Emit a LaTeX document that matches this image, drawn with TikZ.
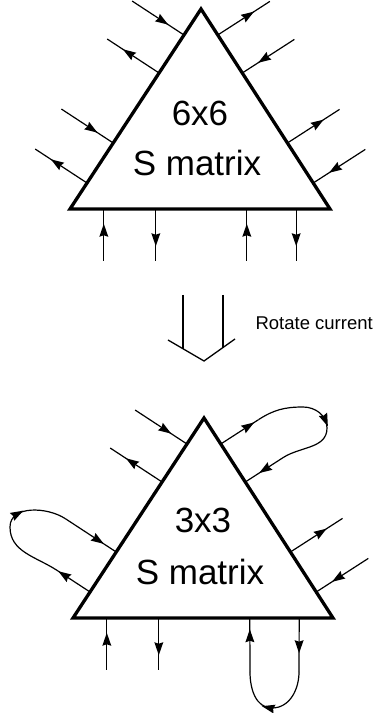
\documentclass[tikz,border=0pt]{standalone}
\usepackage{fontspec}
\setmainfont{Liberation Sans}
\usetikzlibrary{calc,arrows.meta,decorations.markings}

\tikzset{
  block/.style={line width=3.3pt,line join=miter},
  lead/.style={line width=1.2pt,postaction=decorate,
    decoration={markings,mark=at position #1 with {\fill (6pt,0pt) -- (-7pt,4.5pt) -- (-5.5pt,0pt) -- (-7pt,-4.5pt) -- cycle;}}},
  lead/.default=0.6,
  matrixtext/.style={font=\fontsize{35}{40}\selectfont,inner sep=0pt},
}

\begin{document}
\begin{tikzpicture}[x=1pt,y=1pt]
  \useasboundingbox (0,0) rectangle (383,713);
  % 6x6 block
  \coordinate (six-l) at (70,504);
  \coordinate (six-r) at (330,504);
  \coordinate (six-t) at (201,704);
  \draw[block] (six-l) -- (six-r) -- (six-t) -- cycle;
  \node[matrixtext] (six-n) at (200,600) {6x6};
  \node[matrixtext] (six-s) at (197,550) {S matrix};
  \foreach \t [count=\i] in {0.13,0.33,0.68,0.87} {
    \coordinate (six-L\i) at ($(six-l)!\t!(six-t)$);
    \coordinate (six-L\i-o) at ($(six-L\i)!62pt!90:(six-t)$);
    \coordinate (six-R\i) at ($(six-r)!\t!(six-t)$);
    \coordinate (six-R\i-o) at ($(six-R\i)!62pt!-90:(six-t)$);
    \coordinate (six-B\i) at ($(six-l)!\t!(six-r)$);
    \coordinate (six-B\i-o) at ($(six-B\i)!52pt!-90:(six-r)$);
  }
  \foreach \s in {L2,L4,R1,R3,B1,B3}
    \draw[lead] (six-\s-o) -- (six-\s);
  \foreach \s in {L1,L3,R2,R4,B2,B4}
    \draw[lead] (six-\s) -- (six-\s-o);

  % rotate current
  \draw[line width=1.3pt] (183,418) -- (183,364.3);
  \draw[line width=1.3pt] (223,418) -- (223,365.5);
  \draw[line width=1.3pt] (168,373) -- (204,352) -- (235,374);
  \node[anchor=west,font=\fontsize{18.5}{22}\selectfont] (rot) at (252,390) {Rotate current};

  % 3x3 block
  \coordinate (three-l) at (73,95);
  \coordinate (three-r) at (333,95);
  \coordinate (three-t) at (204,295);
  \draw[block] (three-l) -- (three-r) -- (three-t) -- cycle;
  \node[matrixtext] (three-n) at (203,193) {3x3};
  \node[matrixtext] (three-s) at (200,141) {S matrix};
  \foreach \t [count=\i] in {0.13,0.33,0.68,0.87} {
    \coordinate (three-L\i) at ($(three-l)!\t!(three-t)$);
    \coordinate (three-R\i) at ($(three-r)!\t!(three-t)$);
    \coordinate (three-B\i) at ($(three-l)!\t!(three-r)$);
  }
  \foreach \i in {3,4} {
    \coordinate (three-L\i-o) at ($(three-L\i)!62pt!90:(three-t)$);
  }
  \foreach \i in {1,2} {
    \coordinate (three-R\i-o) at ($(three-R\i)!62pt!-90:(three-t)$);
    \coordinate (three-B\i-o) at ($(three-B\i)!52pt!-90:(three-r)$);
  }
  \foreach \s in {L4,R1,B1}
    \draw[lead] (three-\s-o) -- (three-\s);
  \foreach \s in {L3,R2,B2}
    \draw[lead] (three-\s) -- (three-\s-o);

  % closed loops
  \coordinate (three-L1-o) at ($(three-L1)!40pt!90:(three-t)$);
  \coordinate (three-L2-o) at ($(three-L2)!61pt!90:(three-t)$);
  \coordinate (loop-w) at (10,186);
  \draw[lead=0.8] (three-L1) -- (three-L1-o);
  \draw[lead=0.63] (three-L1-o) to[out=147,in=-90] (loop-w) to[out=90,in=147] (three-L2-o);
  \draw[lead=0.66] (three-L2-o) -- (three-L2);

  \coordinate (three-R4-o) at ($(three-R4)!45pt!-90:(three-t)$);
  \coordinate (three-R3-o) at ($(three-R3)!45pt!-90:(three-t)$);
  \coordinate (loop-n) at (303,306);
  \coordinate (loop-e) at (327,285);
  \draw[lead=0.75] (three-R4) -- (three-R4-o);
  \draw[lead=0.54] (three-R4-o) to[out=33,in=180] (loop-n) to[out=0,in=90] (loop-e) to[out=-90,in=33] (three-R3-o);
  \draw[lead=0.5] (three-R3-o) -- (three-R3);

  \coordinate (three-B4-o) at (299,41);
  \coordinate (three-B3-o) at (250,41);
  \coordinate (loop-s) at (272,5);
  \draw[lead=0.54] (three-B4) -- (three-B4-o);
  \draw[lead=0.56] (three-B4-o) to[out=-90,in=0] (loop-s) to[out=180,in=-90] (three-B3-o);
  \draw[lead=0.68] (three-B3-o) -- (three-B3);
\end{tikzpicture}
\end{document}
